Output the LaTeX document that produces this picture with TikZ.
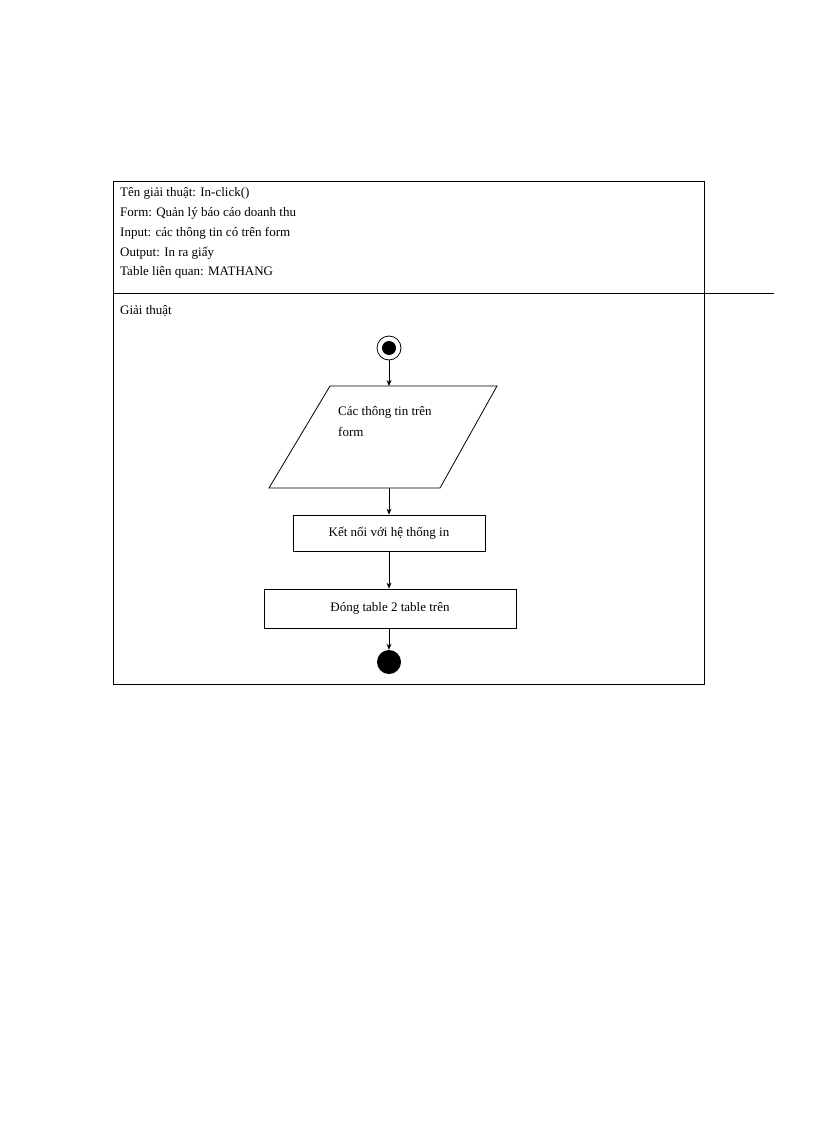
\documentclass[tikz,border=0pt]{standalone}
\usepackage{fontspec}
\setmainfont{Liberation Serif}
\usetikzlibrary{arrows.meta}
\begin{document}
\begin{tikzpicture}[x=1pt,y=-1pt,
  lbl/.style={anchor=west,inner sep=0pt,font=\fontsize{13}{15}\selectfont},
  boxst/.style={draw,thick,minimum height=0pt,inner sep=0pt,font=\fontsize{13}{15}\selectfont},
  arr/.style={-{Stealth[length=6pt,width=5pt]},thick}]
\useasboundingbox (0,0) rectangle (816,1123);
\draw[thick] (113,181) rectangle (704,684);
\draw[thick] (113,293) -- (774,293);
\node[lbl] at (120,193) {Tên giải thuật: In-click()};
\node[lbl] at (120,213) {Form: Quản lý báo cáo doanh thu};
\node[lbl] at (120,233) {Input: các thông tin có trên form};
\node[lbl] at (120,253) {Output: In ra giấy};
\node[lbl] at (120,272) {Table liên quan: MATHANG};
\node[lbl] at (120,311) {Giải thuật};
\node[draw,thick,circle,minimum size=24pt,inner sep=0pt] (s) at (389,348) {};
\fill (389,348) circle (7);
\node[boxst,minimum width=0pt] (p) at (383,437) {};
\draw[thick] (330,386) -- (497,386) -- (440,488) -- (269,488) -- cycle;
\coordinate (ptop) at (389,386);
\coordinate (pbot) at (389,488);
\node[anchor=north west,inner sep=0pt,align=left,font=\fontsize{13}{21}\selectfont] at (338,406) {Các thông tin trên\\form};
\node[boxst,minimum width=192pt,minimum height=36pt] (b1) at (389,533) {Kết nối với hệ thống in};
\node[boxst,minimum width=252pt,minimum height=39pt] (b2) at (390,608.5) {Đóng table 2 table trên};
\node[circle,fill,minimum size=24pt,inner sep=0pt] (e) at (389,662) {};
\draw[arr] (s) -- (ptop);
\draw[arr] (pbot) -- (b1.north -| pbot);
\draw[arr] (b1) -- (b1|-b2.north);
\draw[arr] (b2.south -| e) -- (e);
\end{tikzpicture}
\end{document}
